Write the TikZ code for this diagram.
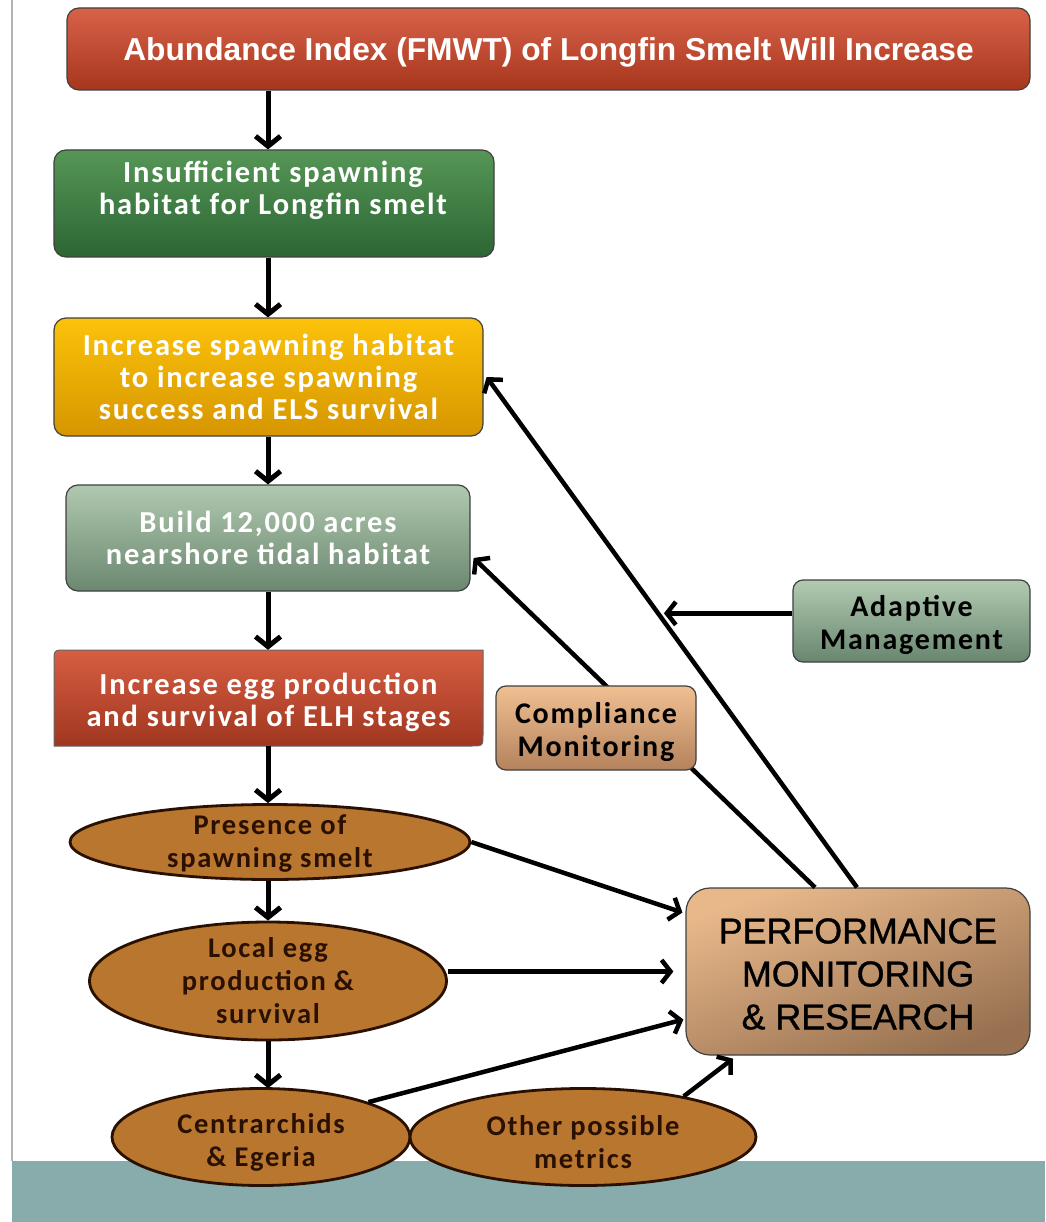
\documentclass[tikz,border=0pt]{standalone}
\usepackage{fontspec}
\setmainfont{Carlito}
\newfontfamily\calb[LetterSpace=6]{Carlito}
\newfontfamily\arialf{Liberation Sans}
\newfontfamily\arialm[FakeBold=1]{Liberation Sans}
\usetikzlibrary{shapes.geometric,arrows.meta,calc}
\definecolor{bandc}{HTML}{88ACAC}
\definecolor{ellc}{HTML}{B8762F}
\definecolor{elltext}{HTML}{2A1000}
\tikzset{
  bx/.style={rectangle, rounded corners=12pt, draw=black!75, line width=1.2pt, inner sep=0pt, align=center},
  wtext/.style={text=white, font=\calb\bfseries\fontsize{30.5}{32}\selectfont, align=center, inner sep=0pt},
  dtext/.style={text=black, font=\calb\bfseries\fontsize{30}{33}\selectfont, align=center, inner sep=0pt},
  ell/.style={ellipse, draw=elltext, line width=2.8pt, fill=ellc, inner sep=0pt},
  etext/.style={text=elltext, font=\calb\bfseries\fontsize{28.5}{33}\selectfont, align=center, inner sep=0pt},
  arr/.style={line width=5pt, -{Straight Barb[length=10pt,width=25pt]}},
  con/.style={line width=4.5pt, -{Straight Barb[length=9pt,width=23pt]}},
}
\begin{document}
\begin{tikzpicture}[x=1pt,y=-1pt]
\useasboundingbox (0,0) rectangle (1045,1222);
\fill[white] (0,0) rectangle (1045,1222);
\fill[bandc] (12,1161) rectangle (1045,1222);
\draw[black!30, line width=1.5pt] (12,0) -- (12,1161);

% main column
\node[bx, top color={rgb,255:red,216;green,98;blue,72}, bottom color={rgb,255:red,166;green,54;blue,30},
      minimum width=963pt, minimum height=82pt] (title) at (548.5,49) {};
\node[text=white, font=\arialf\bfseries\fontsize{31.7}{36}\selectfont, inner sep=0pt] (titlet) at (548.5,52)
      {Abundance Index (FMWT) of Longfin Smelt Will Increase};
\node[bx, top color={rgb,255:red,86;green,150;blue,86}, bottom color={rgb,255:red,44;green,102;blue,52},
      minimum width=440pt, minimum height=107pt] (green) at (274,203.5) {};
\node[wtext] (greent) at (273,190) {Insufficient spawning\\habitat for Longfin smelt};
\node[bx, top color={rgb,255:red,252;green,194;blue,10}, bottom color={rgb,255:red,214;green,150;blue,0},
      minimum width=429pt, minimum height=118pt] (yellow) at (268.5,377) {};
\node[wtext] (yellowt) at (268.5,377) {Increase spawning habitat\\to increase spawning\\success and ELS survival};
\node[bx, top color={rgb,255:red,176;green,200;blue,176}, bottom color={rgb,255:red,108;green,136;blue,112},
      minimum width=404pt, minimum height=106pt] (build) at (268,538) {};
\node[wtext] (buildt) at (268,538) {Build 12,000 acres\\nearshore tidal habitat};
\shade[top color={rgb,255:red,214;green,94;blue,66}, bottom color={rgb,255:red,160;green,54;blue,32}, draw=black!60, line width=1pt]
  (54,746) -- (54,662) .. controls (54,650) .. (66,650) -- (483,650) -- (483,734) .. controls (483,746) .. (471,746) -- cycle;
\node[minimum width=429pt, minimum height=96pt, inner sep=0pt] (egg) at (268.5,698) {};
\node[wtext] (eggt) at (268.5,702) {Increase egg production\\and survival of ELH stages};

% ellipses
\node[ell, minimum width=400pt, minimum height=75pt] (presence) at (270,842) {};
\node[ell, minimum width=357pt, minimum height=118pt] (local) at (268,981) {};
\node[ell, minimum width=298pt, minimum height=97pt] (centr) at (261,1137) {};
\node[ell, minimum width=346pt, minimum height=97pt] (other) at (583,1137) {};
\node[etext] (presencet) at (270,844) {Presence of\\spawning smelt};
\node[etext] (localt) at (268,981) {Local egg\\production \&\\survival};
\node[etext] (centrt) at (261,1142) {Centrarchids\\\& Egeria};
\node[etext] (othert) at (583,1142) {Other possible\\metrics};

% right side
\node[bx, rounded corners=24pt, top color={rgb,255:red,232;green,184;blue,138}, bottom color={rgb,255:red,150;green,112;blue,80},
      shading angle=20, minimum width=344pt, minimum height=167pt] (perf) at (858,971.5) {};
\node[font=\arialm\fontsize{35.8}{43}\selectfont, text=black, align=center, inner sep=0pt] (perft) at (858,974)
      {PERFORMANCE\\MONITORING\\\& RESEARCH};
\node[bx, rounded corners=10pt, top color={rgb,255:red,178;green,202;blue,178}, bottom color={rgb,255:red,104;green,134;blue,110},
      minimum width=237pt, minimum height=82pt] (adapt) at (911.5,621) {};
\node[dtext] (adaptt) at (911.5,625) {Adaptive\\Management};

% vertical arrows
\draw[arr] (title.south -| 268,0) -- (green.north -| 268,0);
\draw[arr] (green.south -| 268,0) -- (yellow.north -| 268,0);
\draw[arr] (yellow.south -| 268,0) -- (build.north -| 268,0);
\draw[arr] (build.south -| 268,0) -- (egg.north -| 268,0);
\draw[arr] (egg.south -| 268,0) -- (presence.north -| 268,0);
\draw[arr] (presence.south -| 268,0) -- (local.north -| 268,0);
\draw[arr] (local.south -| 268,0) -- ([yshift=-1pt]local.south |- centr.north);

% feedback arrows
\draw[con] (perf.north) ++(-1,0) -- ([xshift=3pt]yellow.east);
\coordinate (am) at ($(perf.north)!0.537!(yellow.east)$);
\draw[con] (adapt.west |- am) -- ([xshift=7pt]am);
\draw[con] ([xshift=-43pt]perf.north) -- ([xshift=3pt,yshift=-20pt]build.east);
\node[bx, rounded corners=10pt, top color={rgb,255:red,240;green,192;blue,146}, bottom color={rgb,255:red,180;green,130;blue,92},
      minimum width=200pt, minimum height=84pt] (compl) at (596,728) {};
\node[dtext] (complt) at (596,732) {Compliance\\Monitoring};

% metric arrows
\draw[con] (presence.east) -- ([xshift=-3pt,yshift=59pt]perf.west);
\draw[con] (local.east |- perf.west) -- ([xshift=-12pt]perf.west);
\draw[con] (centr.18) -- ([xshift=-2pt,yshift=-48pt]perf.west);
\draw[con] (other.22) -- ([xshift=-125pt,yshift=-3pt]perf.south);
\end{tikzpicture}
\end{document}
